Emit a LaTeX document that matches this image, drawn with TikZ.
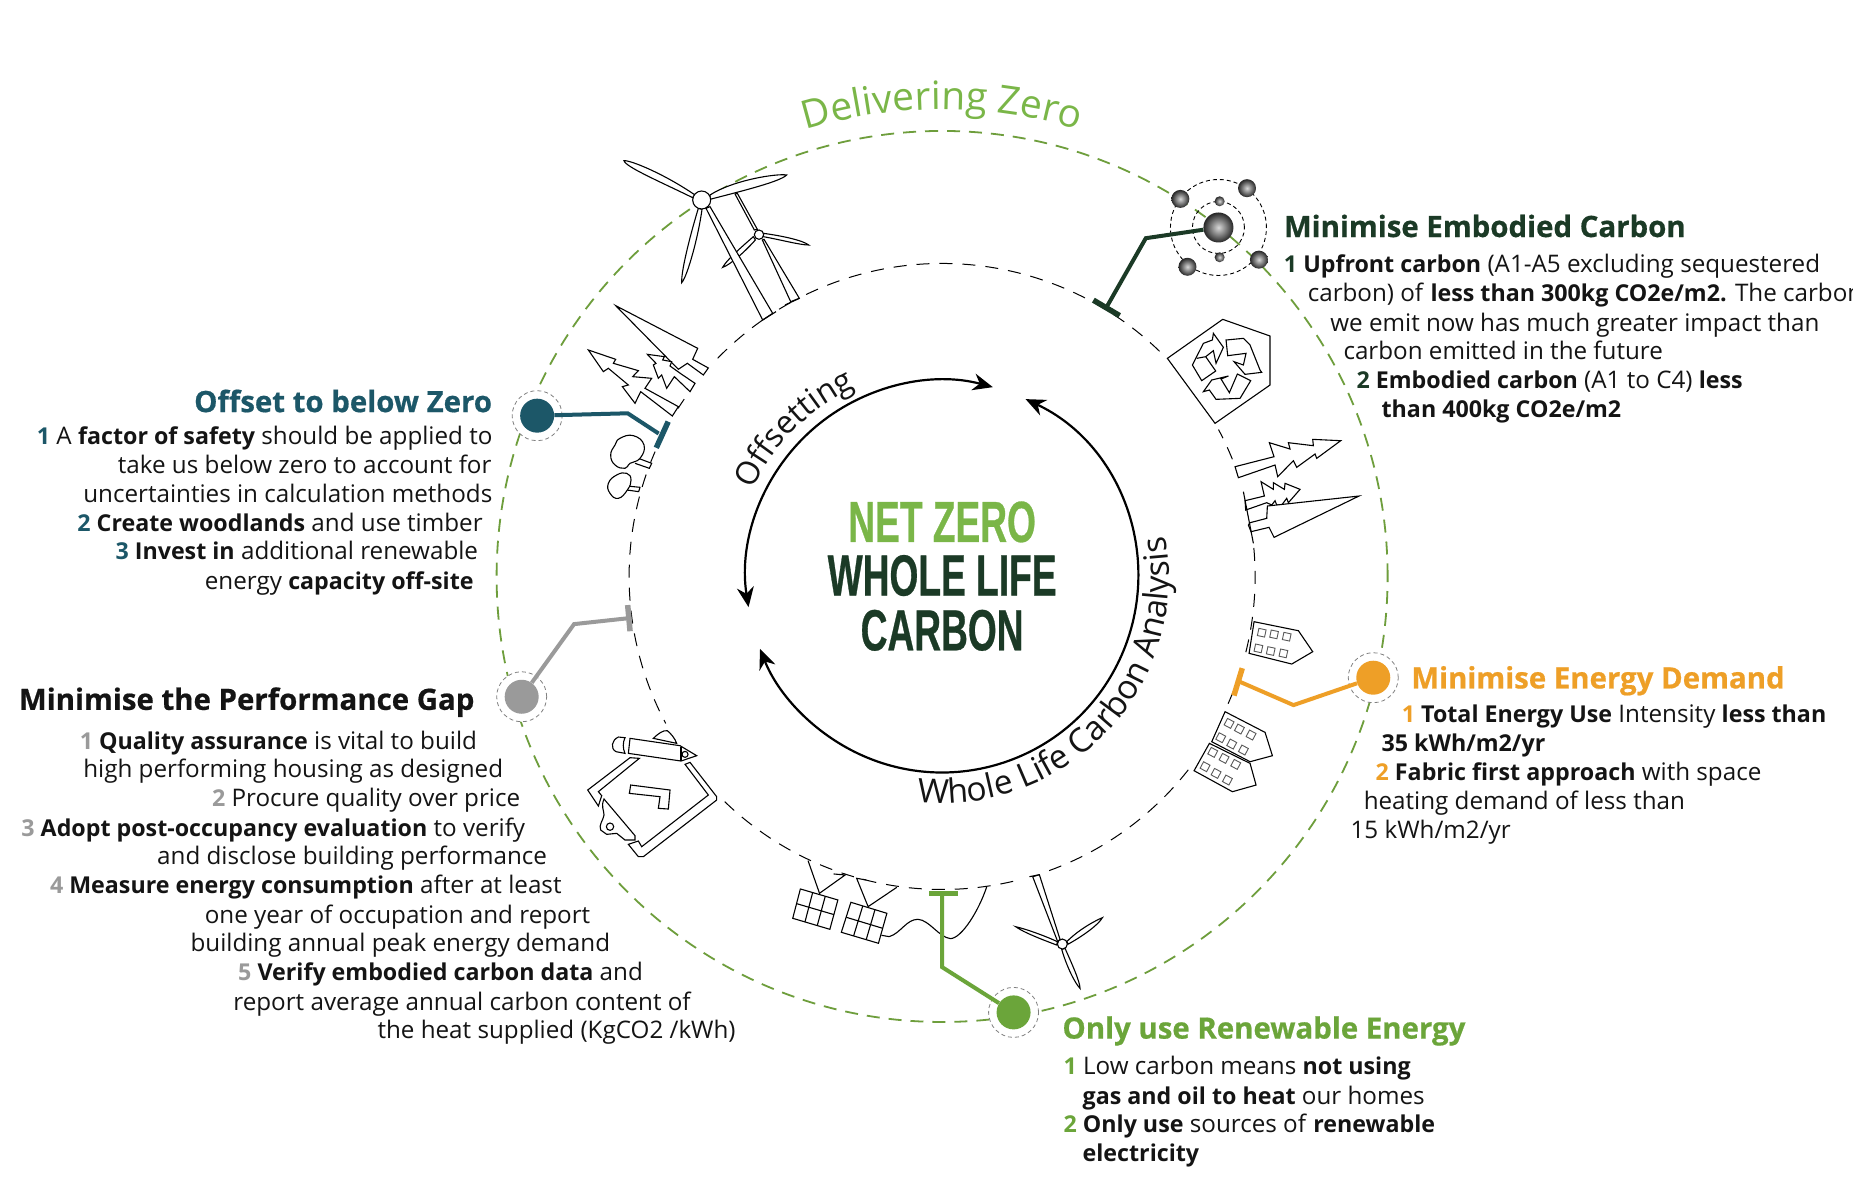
\documentclass[tikz,border=0pt]{standalone}
\usepackage{fontspec}
\setmainfont{Open Sans}[BoldFeatures={Scale=0.96}]
\newfontfamily\headfont{Open Sans}[BoldFeatures={FakeBold=0.6}]
\newfontfamily\condfont[FakeStretch=0.64,BoldFeatures={FakeStretch=0.64,FakeBold=0.5}]{Liberation Sans}
\usetikzlibrary{arrows.meta,decorations.text,calc}
\definecolor{cEmb}{HTML}{1B3A26}
\definecolor{cOff}{HTML}{1C5768}
\definecolor{cGap}{HTML}{9A9A9A}
\definecolor{cRen}{HTML}{6BA53A}
\definecolor{cEne}{HTML}{EE9F27}
\definecolor{cRing}{HTML}{6E9E3C}
\definecolor{cTitle}{HTML}{7AB648}
\definecolor{cText}{HTML}{141414}
\newcommand{\bodyfs}{\fontsize{24.2}{29}\selectfont}
\newcommand{\headfs}{\fontsize{29.4}{32}\selectfont\headfont\bfseries}
\newcommand{\dzfmt}{\fontsize{39}{39}\selectfont\color{cTitle}}
\newcommand{\offmt}{\fontsize{32}{32}\selectfont\color{cText}}
\newcommand{\wlfmt}{\fontsize{33.5}{33.5}\selectfont\color{cText}}
\newcommand{\titlefs}{\fontsize{58}{58}\selectfont\condfont\bfseries}
\newcommand{\inarc}[2]{\draw[innerring] (C) ++(#1:313pt) arc[start angle=#1,end angle=#2,radius=313pt];}
\newcommand{\win}[3]{\draw[windowbox,shift={(#1,#2)},rotate=#3] (-11,-11) rectangle (11,11);}
\tikzset{
  tx/.style={anchor=base west,inner sep=0pt,outer sep=0pt,font=\bodyfs,text=cText},
  hd/.style={anchor=base west,inner sep=0pt,outer sep=0pt,font=\headfs},
  ttl/.style={anchor=base,inner sep=0pt,outer sep=0pt,font=\titlefs},
  outerring/.style={draw=cRing,line width=1.8pt,dash pattern=on 13pt off 9pt},
  innerring/.style={draw=black,line width=1pt,dash pattern=on 13pt off 10pt},
  cycle arrow/.style={draw=black,line width=2.2pt,{Stealth[length=20pt,width=17pt]}-{Stealth[length=20pt,width=17pt]}},
  conn/.style={line width=4pt,line join=miter},
  tbar/.style={line width=5.5pt},
  dot/.style={circle,inner sep=0pt,minimum size=34pt},
  halo/.style={circle,inner sep=0pt,minimum size=50pt,draw=gray,line width=0.8pt,fill=white,dash pattern=on 4pt off 3pt},
  icon/.style={draw=black,line width=1.1pt,fill=white,line join=miter},
  windowbox/.style={draw=black!65,line width=0.9pt},
  orbit/.style={draw=black,line width=0.9pt,dash pattern=on 4pt off 3pt},
  ballshade/.style={circle,inner sep=0pt,shade,inner color=black!15,outer color=black!85},
}
\begin{document}
\begin{tikzpicture}[x=1.191pt,y=-1.191pt]
\path[use as bounding box,fill=white] (0,0) rectangle (1566.7,1007.6);
\coordinate (C) at (791,484);

% outer ring
\draw[outerring] (C) circle[radius=445.5pt];
% inner ring pieces
\inarc{46}{117}\inarc{119}{122}\inarc{125}{136}\inarc{145.5}{147.5}\inarc{156.5}{159}\inarc{161}{208}
\inarc{226}{284}\inarc{290}{323}\inarc{336}{344}\inarc{346}{366}\inarc{22}{28}

% cycle arrows
\draw[cycle arrow] (C) ++(189:196pt) arc[start angle=189,end angle=75,radius=196pt];
\draw[cycle arrow] (C) ++(64.8:196pt) arc[start angle=64.8,end angle=-158.3,radius=196pt];

% curved texts
\path[decorate,decoration={text along path,text align=center,text={|\dzfmt|Delivering{ }Zero}}]
  (C) ++(110:467pt) arc[start angle=110,end angle=70,radius=467pt];
\path[decorate,decoration={text along path,text align=center,text={|\offmt|Offsetting}}]
  (C) ++(158:208pt) arc[start angle=158,end angle=112,radius=208pt];
\path[decorate,decoration={text along path,text align=center,text={|\wlfmt|Whole{ }Life{ }Carbon{ }Analysis}}]
  (C) ++(-108:227pt) arc[start angle=-108,end angle=22,radius=227pt];

% title
\node[ttl,text=cTitle] (t1) at (791,455) {NET ZERO};
\node[ttl,text=cEmb] (t2) at (791,500) {WHOLE LIFE};
\node[ttl,text=cEmb] (t3) at (791,546) {CARBON};

% ---- icons: turbines and trees, top left
\begin{scope}[shift={(461.8,109.15)},x=0.3333pt,y=-0.3333pt]
  % small turbine
  \draw[icon] (637,330)--(722,515)--(748,505)--(642,328)--cycle;
  \draw[icon] (705,525)--(748,505);
  \draw[icon] (640,310) .. controls (700,318) and (760,332) .. (776,345) .. controls (750,345) and (695,330) .. (640,320) -- cycle;
  \draw[icon] (613,300)--(555,192)--(562,190)--(622,298)--cycle;
  \draw[icon] (610,320) .. controls (570,355) and (530,390) .. (518,412) .. controls (540,405) and (585,365) .. (616,330) -- cycle;
  \draw[icon] (627,314) circle[radius=14];
  % large turbine
  \draw[icon] (468,235)--(638,570)--(668,550)--(480,230)--cycle;
  \draw[icon] (638,570)--(678,545);
  \draw[icon] (435,195) .. controls (340,130) and (240,90) .. (222,92) .. controls (225,110) and (330,155) .. (428,203) -- cycle;
  \draw[icon] (480,195) .. controls (550,150) and (680,130) .. (710,135) .. controls (690,155) and (580,182) .. (480,208) -- cycle;
  \draw[icon] (445,235) .. controls (425,300) and (393,420) .. (395,458) .. controls (412,440) and (445,320) .. (456,238) -- cycle;
  \draw[icon] (455,210) circle[radius=27];
  % conifers
  \draw[icon] (197,527)--(443,655)--(428,688)--(475,714)--(460,735)--(412,700)--(385,718)--cycle;
  \draw[icon] (292,673)--(343,680)--(338,690)--(365,695)--(360,708)--(395,733)--(435,760)--(420,785)--(373,740)--(350,775)--(335,735)--(325,745)--(310,705)--(318,700)--cycle;
  \draw[icon] (115,660)--(197,688)--(190,700)--(265,722)--(248,740)--(305,745)--(285,775)--(385,830)--(367,858)--(272,785)--(255,820)--(217,770)--(235,765)--(175,715)--(160,725)--cycle;
  % round trees
  \draw[icon] (265,985)--(305,1000)--(298,1015)--(255,1000);
  \draw[icon] plot[smooth cycle,tension=0.8] coordinates {(210,925)(250,917)(282,945)(270,985)(240,1000)(225,1015)(195,1005)(182,975)(195,945)};
  \draw[icon] (230,1068)--(270,1072)--(266,1085)--(230,1080);
  \draw[icon] plot[smooth cycle,tension=0.8] coordinates {(200,1035)(230,1030)(243,1050)(232,1080)(205,1105)(180,1090)(175,1060)};
\end{scope}

% ---- recycle
\begin{scope}[shift={(973.97,260.29)},x=0.3333pt,y=-0.3333pt]
  \draw[icon] (22,145)--(188,28)--(330,78)--(330,225)--(165,340)--cycle;
  \draw[icon] (160,70)--(190,112)--(168,160)--(160,122)--(137,140)--(167,183)--(125,212)--(97,165)--(130,100)--(157,90)--cycle;
  \draw[icon] (110,145)--(137,140);
  \draw[icon] (198,90)--(250,85)--(270,105)--(300,180)--(305,187)--(255,193)--(222,155)--(250,165)--(258,130)--(203,137)--cycle;
  \draw[icon] (205,198)--(155,210)--(130,245)--(148,240)--(168,268)--(240,265)--(272,212)--(232,192)--(208,248)--(183,207)--cycle;
\end{scope}

% ---- right trees
\begin{scope}[shift={(1028.55,361.05)},x=0.3333pt,y=-0.3333pt]
  \draw[icon] (347,32)--(263,28)--(265,47)--(190,38)--(195,57)--(133,38)--(147,80)--(30,110)--(40,143)--(150,105)--(158,140)--(205,92)--(215,112)--(270,72)--(275,85)--cycle;
  \draw[icon] (225,178)--(180,160)--(178,178)--(145,158)--(145,178)--(108,155)--(118,198)--(60,212)--(62,240)--(125,218)--(140,225)--(150,212)--(155,225)--(170,225)--(185,205)--(190,218)--cycle;
  \draw[icon] (402,198)--(127,228)--(125,265)--(75,278)--(70,285)--(78,305)--(132,292)--(147,322)--cycle;
  \draw[icon,fill=none] (55,185)--(85,340);
\end{scope}

% ---- clipboard
\begin{scope}[shift={(486.99,608.73)},x=0.3333pt,y=-0.3333pt]
  \draw[icon] (220,40) .. controls (235,25) and (250,15) .. (262,17) .. controls (272,25) and (285,40) .. (290,55) -- cycle;
  \draw[icon] (135,38) -- (115,36) .. controls (95,45) and (90,70) .. (108,80) -- (135,85) .. controls (128,70) and (128,52) .. (135,38) -- cycle;
  \draw[icon] (150,40)--(300,62)--(350,92)--(303,108)--(145,85)--cycle;
  \draw[icon] (303,66)--(303,108);
  \draw[icon] (315,88) circle[radius=9];
  \draw[icon] (150,98)--(178,100)--(55,200)--(65,212)--(55,243)--(23,195)--cycle;
  \draw[icon] (330,112)--(315,118)--(385,210)--(185,365)--(175,348)--(145,358)--(175,395)--(190,395)--(410,225)--(410,215)--cycle;
  \draw[icon] (72,222)--(165,332)--(165,345)--(135,345)--(110,325)--(80,328)--(62,315) .. controls (55,300) and (70,285) .. (72,270) .. controls (72,255) and (62,245) .. (72,222) -- cycle;
  \draw[icon] (90,305) circle[radius=11];
  \draw[icon] (152,180)--(270,195)--(265,252)--(235,250)--(240,215)--(148,205)--cycle;
\end{scope}

% ---- solar panels (zoom with x 2.61, y 3)
\begin{scope}[shift={(470.2,587.7)},x=0.3827pt,y=-0.3333pt]
  \draw[icon,fill=none] (648,482)--(678,580)--(745,525)--(715,522);
  \draw[icon] (628,567)--(726,600)--(705,688)--(608,655)--cycle;
  \draw[icon,fill=none] (660,578)--(640,666) (693,589)--(672,677) (618,611)--(716,644);
  \draw[icon,fill=none] (800,540)--(775,535)--(805,620)--(880,562);
  \draw[icon] (760,607)--(854,640)--(832,730)--(735,697)--cycle;
  \draw[icon,fill=none] (791,618)--(767,708) (823,629)--(800,719) (748,652)--(843,685);
  \draw[icon,fill=none] (840,706)--(860,710) .. controls (890,700) and (905,658) .. (935,658) .. controls (965,660) and (990,712) .. (1020,716) .. controls (1050,715) and (1095,630) .. (1115,560);
\end{scope}

% ---- lower turbine
\begin{scope}[shift={(848.03,730.48)},x=0.3333pt,y=-0.3333pt]
  \draw[icon] (68,20)--(143,215)--(150,208)--(88,14)--cycle;
  \draw[icon] (58,20)--(88,14);
  \draw[icon] (170,215) .. controls (210,175) and (260,150) .. (277,143) .. controls (265,165) and (215,200) .. (175,222) -- cycle;
  \draw[icon] (142,215) .. controls (100,195) and (40,175) .. (17,170) .. controls (40,187) and (100,210) .. (140,225) -- cycle;
  \draw[icon] (155,238) .. controls (170,290) and (195,340) .. (210,355) .. controls (210,335) and (185,280) .. (165,235) -- cycle;
  \draw[icon] (157,222) circle[radius=15];
\end{scope}

% ---- houses
\begin{scope}[shift={(965.6,503.8)},x=0.3333pt,y=-0.3333pt]
  \draw[icon] (312,65)--(445,92)--(488,155)--(425,192)--(297,160)--cycle;
  \win{335}{98}{-12}\win{372}{103}{-12}\win{410}{110}{-12}\win{325}{145}{-12}\win{362}{153}{-12}\win{400}{160}{-12}
  \draw[icon] (225,335)--(345,397)--(367,467)--(300,485)--(185,425)--cycle;
  \win{237}{370}{-28}\win{268}{387}{-28}\win{303}{405}{-28}\win{212}{413}{-28}\win{245}{432}{-28}\win{280}{450}{-28}
  \draw[icon] (178,430)--(300,490)--(318,555)--(247,575)--(132,512)--cycle;
  \win{188}{457}{-28}\win{222}{475}{-28}\win{257}{493}{-28}\win{165}{500}{-28}\win{198}{520}{-28}\win{232}{540}{-28}
\end{scope}

% ---- atom
\draw[orbit] (1023,191) circle[radius=48pt];
\draw[orbit] (1023,191) circle[radius=26pt];
\node[ballshade,minimum size=30pt] (atom) at (1023,191) {};
\node[ballshade,minimum size=18pt] (s1) at (991,167) {};
\node[ballshade,minimum size=18pt] (s2) at (1047,158) {};
\node[ballshade,minimum size=18pt] (s3) at (1057,218) {};
\node[ballshade,minimum size=18pt] (s4) at (997,224) {};
\node[ballshade,minimum size=10pt] (s5) at (1024,169) {};
\node[ballshade,minimum size=10pt] (s6) at (1024,216) {};

% ---- hubs
\node[halo] (ringT) at (451,349) {};
\node[dot,fill=cOff] (dotT) at (451,349) {};
\node[halo] (ringG) at (438,585) {};
\node[dot,fill=cGap] (dotG) at (438,585) {};
\node[halo] (ringR) at (851,850) {};
\node[dot,fill=cRen] (dotR) at (851,850) {};
\node[halo] (ringE) at (1153,569) {};
\node[dot,fill=cEne] (dotE) at (1153,569) {};

% ---- connectors
\coordinate (a1) at (962,200); \coordinate (a2) at (929,258);
\coordinate (a3) at (918,252); \coordinate (a4) at (940,265);
\draw[conn,draw=cEmb] (atom) -- (a1) -- (a2);
\draw[tbar,draw=cEmb] (a3) -- (a4);
\coordinate (o1) at (527,347); \coordinate (o2) at (553,364);
\coordinate (o3) at (561,354); \coordinate (o4) at (551,376);
\draw[conn,draw=cOff] (dotT) -- (o1) -- (o2);
\draw[tbar,draw=cOff] (o3) -- (o4);
\coordinate (g1) at (482,524); \coordinate (g2) at (528,519);
\coordinate (g3) at (527,508); \coordinate (g4) at (529,530);
\draw[conn,draw=cGap] (dotG) -- (g1) -- (g2);
\draw[tbar,draw=cGap] (g3) -- (g4);
\coordinate (r1) at (791,812); \coordinate (r2) at (791,750);
\coordinate (r3) at (780,750); \coordinate (r4) at (804,750);
\draw[conn,draw=cRen] (dotR) -- (r1) -- (r2);
\draw[tbar,draw=cRen] (r3) -- (r4);
\coordinate (e1) at (1086,592); \coordinate (e2) at (1040,572);
\coordinate (e3) at (1043,561); \coordinate (e4) at (1036,584);
\draw[conn,draw=cEne] (dotE) -- (e1) -- (e2);
\draw[tbar,draw=cEne] (e3) -- (e4);

% ---- texts: embodied
\node[hd,text=cEmb] (hE) at (1078,199) {Minimise Embodied Carbon};
\node[tx] (e1t) at (1078,229) {\textbf{\textcolor{cEmb}{1} Upfront carbon} (A1-A5 excluding sequestered};
\node[tx] (e2t) at (1098,253.5) {carbon) of \textbf{less than 300kg CO2e/m2.} The carbon};
\node[tx] (e3t) at (1117,278) {we emit now has much greater impact than};
\node[tx] (e4t) at (1128,302) {carbon emitted in the future};
\node[tx] (e5t) at (1139,326) {\textbf{\textcolor{cEmb}{2} Embodied carbon} (A1 to C4) \textbf{less}};
\node[tx] (e6t) at (1160,350.5) {\textbf{than 400kg CO2e/m2}};
% offset
\node[hd,text=cOff] (hO) at (163,346) {Offset to below Zero};
\node[tx] (o1t) at (31,373) {\textbf{\textcolor{cOff}{1}} A \textbf{factor of safety} should be applied to};
\node[tx] (o2t) at (99,397.5) {take us below zero to account for};
\node[tx] (o3t) at (70,422) {uncertainties in calculation methods};
\node[tx] (o4t) at (65,446) {\textbf{\textcolor{cOff}{2} Create woodlands} and use timber};
\node[tx] (o5t) at (97,470) {\textbf{\textcolor{cOff}{3} Invest in} additional renewable};
\node[tx] (o6t) at (172,495) {energy \textbf{capacity off-site}};
% gap
\node[hd,text=cText] (hG) at (16,596) {Minimise the Performance Gap};
\node[tx] (g1t) at (67,629) {\textbf{\textcolor{cGap}{1} Quality assurance} is vital to build};
\node[tx] (g2t) at (70,653) {high performing housing as designed};
\node[tx] (g3t) at (178,677.5) {\textbf{\textcolor{cGap}{2}} Procure quality over price};
\node[tx] (g4t) at (18,702) {\textbf{\textcolor{cGap}{3} Adopt post-occupancy evaluation} to verify};
\node[tx] (g5t) at (132,726) {and disclose building performance};
\node[tx] (g6t) at (42,750.5) {\textbf{\textcolor{cGap}{4} Measure energy consumption} after at least};
\node[tx] (g7t) at (172,775) {one year of occupation and report};
\node[tx] (g8t) at (160,799) {building annual peak energy demand};
\node[tx] (g9t) at (200,823.5) {\textbf{\textcolor{cGap}{5} Verify embodied carbon data} and};
\node[tx] (g10t) at (196,848) {report average annual carbon content of};
\node[tx] (g11t) at (317,872) {the heat supplied (KgCO2 /kWh)};
% renewable
\node[hd,text=cRen] (hR) at (892,872) {Only use Renewable Energy};
\node[tx] (r1t) at (893,902) {\textbf{\textcolor{cRen}{1}} Low carbon means \textbf{not using}};
\node[tx] (r2t) at (909,927) {\textbf{gas and oil to heat} our homes};
\node[tx] (r3t) at (893,951) {\textbf{\textcolor{cRen}{2} Only use} sources of \textbf{renewable}};
\node[tx] (r4t) at (909,975) {\textbf{electricity}};
% energy
\node[hd,text=cEne] (hD) at (1185,578) {Minimise Energy Demand};
\node[tx] (d1t) at (1177,606.5) {\textbf{\textcolor{cEne}{1} Total Energy Use} Intensity \textbf{less than}};
\node[tx] (d2t) at (1160,631) {\textbf{35 kWh/m2/yr}};
\node[tx] (d3t) at (1155,655) {\textbf{\textcolor{cEne}{2} Fabric first approach} with space};
\node[tx] (d4t) at (1145,679.5) {heating demand of less than};
\node[tx] (d5t) at (1134,704) {15 kWh/m2/yr};

% right margin of the reference
\fill[white] (1556,0) rectangle (1566.7,1007.6);
\end{tikzpicture}
\end{document}
